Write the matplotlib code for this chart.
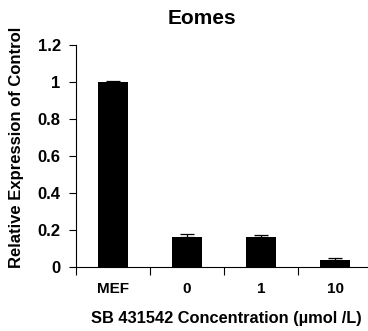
import matplotlib
matplotlib.use('Agg')
import matplotlib.pyplot as plt
import numpy as np

categories = ['MEF', '0', '1', '10']
values = [1.0, 0.163, 0.163, 0.038]
errors = [0.005, 0.015, 0.008, 0.013]
yticks = [0, 0.2, 0.4, 0.6, 0.8, 1, 1.2]
ytick_labels = ['0', '0.2', '0.4', '0.6', '0.8', '1', '1.2']

plt.rcParams['font.family'] = ['Liberation Sans', 'DejaVu Sans']
plt.rcParams['font.weight'] = 'bold'

fig = plt.figure(figsize=(3.68, 3.31), dpi=100)
# axis deliberately runs a little past the right edge, like the reference
ax = fig.add_axes([76 / 368, 64 / 331, 296 / 368, 222 / 331])

x = np.arange(len(categories))
ax.bar(x, values, width=0.4, color='black', zorder=2)
ax.errorbar(x, values, yerr=[np.zeros(len(errors)), errors], fmt='none',
            ecolor='black', elinewidth=0.9, capsize=4.8, capthick=0.9, zorder=3)

ax.set_xlim(-0.5, len(categories) - 0.5)
ax.set_ylim(0, 1.2)

# y axis
ax.set_yticks(yticks)
ax.set_yticklabels(ytick_labels, fontsize=12, fontweight='bold')
ax.tick_params(axis='y', length=5, width=0.8, pad=6)

# x axis: ticks between categories, labels centered
ax.set_xticks(np.arange(len(categories) + 1) - 0.5)
ax.set_xticklabels([])
ax.set_xticks(x, minor=True)
ax.set_xticklabels(categories, minor=True, fontsize=11, fontweight='bold')
ax.tick_params(axis='x', which='major', length=6, width=0.8)
ax.tick_params(axis='x', which='minor', length=0, pad=11)

for s in ['top', 'right']:
    ax.spines[s].set_visible(False)
for s in ['left', 'bottom']:
    ax.spines[s].set_linewidth(0.8)

fig.text(202 / 368, 1 - 18 / 331, 'Eomes', ha='center', va='center',
         fontsize=15, fontweight='bold')
fig.text(17 / 368, 1 - 147 / 331, 'Relative Expression of Control', rotation=90,
         ha='center', va='center', fontsize=12, fontweight='bold')
fig.text(226 / 368, 1 - 318 / 331, 'SB 431542 Concentration (\u00b5mol /L)',
         ha='center', va='center', fontsize=11.8, fontweight='bold')

fig.savefig('out.png', dpi=100)
